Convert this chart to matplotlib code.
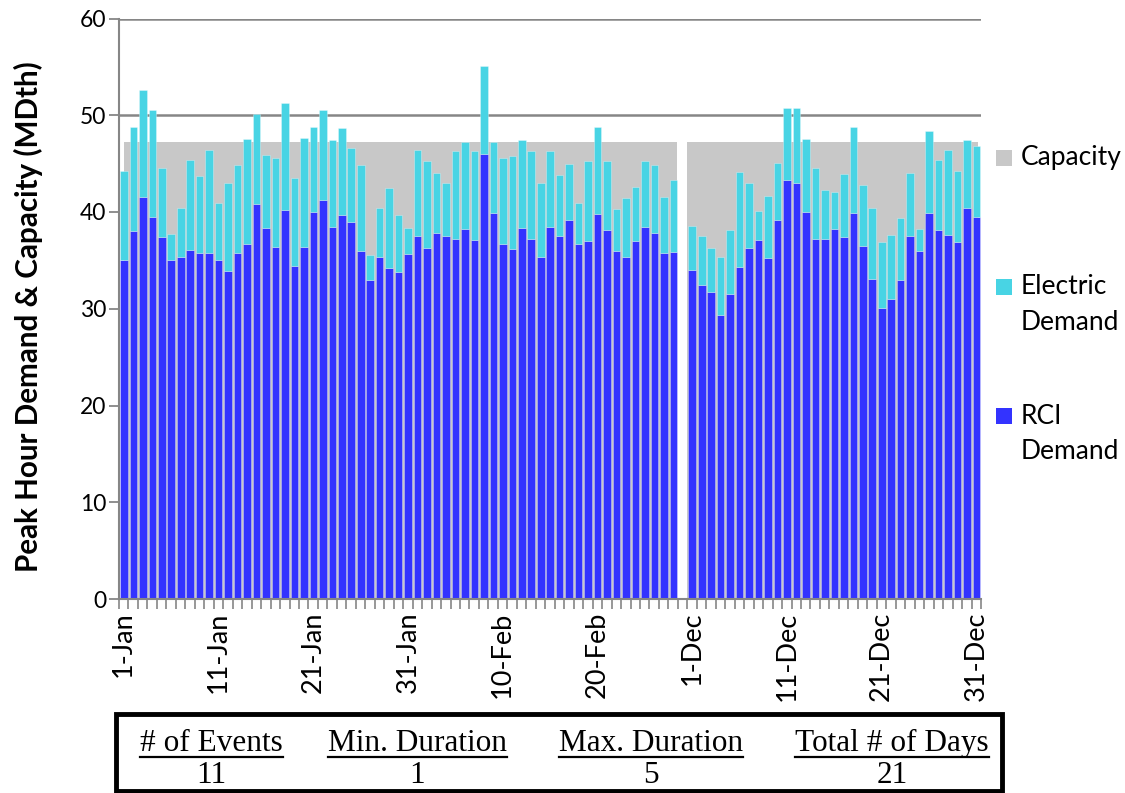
import matplotlib
matplotlib.use("Agg")
import matplotlib.pyplot as plt
from matplotlib.patches import Rectangle
from matplotlib.lines import Line2D
import numpy as np

# ---------------- data ----------------
janfeb_rci = [35.0, 38.0, 41.5, 39.5, 37.4, 35.0, 35.3, 36.1, 35.8, 35.8,
              35.0, 33.9, 35.8, 36.7, 40.8, 38.3, 36.4, 40.2, 34.4, 36.4,
              40.0, 41.2, 38.4, 39.7, 39.0, 36.0, 33.0, 35.4, 34.2, 33.8,
              35.7, 37.5, 36.3, 37.8, 37.5, 37.2, 38.2, 37.1, 46.0, 39.9,
              36.7, 36.2, 38.3, 37.2, 35.4, 38.5, 37.5, 39.2, 36.7, 37.0,
              39.8, 38.1, 36.0, 35.3, 37.0, 38.5, 37.8, 35.8, 35.9]
janfeb_elec = [9.2, 10.8, 11.1, 11.0, 7.1, 2.7, 5.1, 9.3, 7.9, 10.6,
               5.9, 9.1, 9.1, 10.8, 9.3, 7.6, 9.2, 11.1, 9.1, 11.2,
               8.8, 9.3, 9.0, 9.0, 7.6, 8.9, 2.6, 5.0, 8.3, 5.9,
               2.6, 8.9, 9.0, 6.2, 5.5, 9.1, 9.0, 9.2, 9.1, 7.3,
               8.9, 9.6, 9.1, 9.1, 7.6, 7.8, 6.3, 5.8, 4.2, 8.3,
               9.0, 7.2, 4.3, 6.1, 5.6, 6.8, 7.1, 5.8, 7.4]
dec_rci = [34.0, 32.5, 31.7, 29.4, 31.5, 34.3, 36.3, 37.1, 35.2, 39.2,
           43.3, 43.0, 40.0, 37.2, 37.2, 38.2, 37.4, 39.9, 36.5, 33.1,
           30.1, 31.0, 33.0, 37.5, 36.0, 39.9, 38.1, 37.6, 36.9, 40.4, 39.5]
dec_elec = [4.6, 5.0, 4.6, 5.9, 6.6, 9.8, 6.7, 3.0, 6.5, 5.9,
            7.5, 7.8, 7.5, 7.3, 5.1, 3.9, 6.5, 8.9, 6.3, 7.3,
            6.8, 6.6, 6.4, 6.5, 2.2, 8.5, 7.3, 8.8, 7.3, 7.0, 7.3]
capacity_value = 47.2
janfeb_capacity = [capacity_value] * len(janfeb_rci)
dec_capacity = [capacity_value] * len(dec_rci)

tick_labels = ["1-Jan", "11-Jan", "21-Jan", "31-Jan", "10-Feb", "20-Feb",
               "1-Dec", "11-Dec", "21-Dec", "31-Dec"]
legend_labels = ["Capacity", "Electric\nDemand", "RCI\nDemand"]
ylabel = "Peak Hour Demand & Capacity (MDth)"
table_headers = ["# of Events", "Min. Duration", "Max. Duration", "Total # of Days"]
table_values = ["11", "1", "5", "21"]

# ---------------- style ----------------
C_BLUE = "#3333FF"
C_CYAN = "#48D4E4"
C_GREY = "#C8C8C8"
C_AXIS = "#868686"
SANS = "Lato"
SERIF = "Liberation Serif"

W, H = 1125, 793
fig = plt.figure(figsize=(W / 100, H / 100), dpi=100)

def fx(px):
    return px / W

def fy(py):
    return 1 - py / H

ax_l, ax_r, ax_t, ax_b = 119, 981, 18.5, 599
ax = fig.add_axes([fx(ax_l), fy(ax_b), fx(ax_r - ax_l), (ax_b - ax_t) / H])

n_jf = len(janfeb_rci)
n_dec = len(dec_rci)
# categories: Jan-Feb, one empty category, Dec
cat_jf = np.arange(n_jf)
cat_dec = np.arange(n_dec) + n_jf + 1
n_cat = n_jf + 1 + n_dec

# capacity (drawn behind)
cap_step = 0.99
cap_x_jf = 0.53 + np.arange(n_jf) * cap_step
cap_x_dec = 59.98 + np.arange(n_dec) * cap_step
ax.bar(cap_x_jf, janfeb_capacity, width=1.0, align="edge", color=C_GREY,
       linewidth=0, zorder=2)
ax.bar(cap_x_dec, dec_capacity, width=1.0, align="edge", color=C_GREY,
       linewidth=0, zorder=2)

# demand bars
bw = 0.80
off = 0.12
edge = (1, 1, 1, 0.3)
for cats, rci, elec in [(cat_jf, janfeb_rci, janfeb_elec),
                        (cat_dec, dec_rci, dec_elec)]:
    ax.bar(cats + off, rci, width=bw, align="edge", color=C_BLUE,
           edgecolor=edge, linewidth=0.7, zorder=3)
    ax.bar(cats + off, elec, bottom=rci, width=bw, align="edge", color=C_CYAN,
           edgecolor=edge, linewidth=0.7, zorder=3)

ax.set_xlim(0, n_cat)
ax.set_ylim(0, 60)

# grid (only the lines above the capacity band are visible in the original)
ax.set_yticks(np.arange(0, 61, 10))
ax.yaxis.grid(True, color=C_AXIS, linewidth=1.8, zorder=1)
ax.set_axisbelow(True)
for val, gl in zip(ax.get_yticks(), ax.yaxis.get_gridlines()):
    if val < 50:
        gl.set_visible(False)

for s in ["top", "right"]:
    ax.spines[s].set_visible(False)
for s in ["left", "bottom"]:
    ax.spines[s].set_color(C_AXIS)
    ax.spines[s].set_linewidth(1.5)
    ax.spines[s].set_zorder(5)

ax.tick_params(axis="y", direction="out", length=7, width=1.3, color=C_AXIS,
               labelsize=16.5, pad=2)
for t in ax.get_yticklabels():
    t.set_fontfamily(SANS)

# x ticks
label_pos = [0, 10, 20, 30, 40, 50, n_jf + 1, n_jf + 11, n_jf + 21, n_jf + 31]
ax.set_xticks(np.array(label_pos) + 0.5)
ax.set_xticklabels(tick_labels, rotation=90, fontsize=19.5, fontfamily=SANS)
ax.set_xticks(np.arange(0, n_cat + 1), minor=True)
ax.tick_params(axis="x", which="major", length=0, pad=9)
ax.tick_params(axis="x", which="minor", direction="out", length=7, width=1.2,
               color=C_AXIS)

fig.text(fx(28), fy(317), ylabel, rotation=90, ha="center", va="center",
         fontsize=21.3, fontweight="bold", fontfamily=SANS)

# legend (manual, figure pixels)
leg_items = [(C_GREY, 158, legend_labels[0]),
             (C_CYAN, 287, legend_labels[1]),
             (C_BLUE, 416, legend_labels[2])]
line_gap = 35
for col, yc, lab in leg_items:
    fig.patches.append(Rectangle((fx(996), fy(yc + 8)), fx(16), 16 / H,
                                 transform=fig.transFigure, facecolor=col,
                                 edgecolor="none"))
    for k, line in enumerate(lab.split("\n")):
        fig.text(fx(1021), fy(yc + k * line_gap), line, ha="left",
                 va="center", fontsize=19, fontfamily=SANS)

fig.canvas.draw()

# table box
fig.patches.append(Rectangle((fx(116), fy(791)), fx(1002 - 116), (791 - 714) / H,
                             transform=fig.transFigure, facecolor="none",
                             edgecolor="black", linewidth=3.5))
head_x = [211.5, 417, 651, 892]
renderer = fig.canvas.get_renderer()
for xc, hd, val in zip(head_x, table_headers, table_values):
    t = fig.text(fx(xc), fy(751), hd, ha="center", va="baseline",
                 fontsize=22.5, fontfamily=SERIF)
    bb = t.get_window_extent(renderer=renderer)
    fig.lines.append(Line2D([bb.x0 / W, bb.x1 / W], [fy(757), fy(757)],
                            transform=fig.transFigure, color="black",
                            linewidth=1.6))
    fig.text(fx(xc), fy(783), val, ha="center", va="baseline",
             fontsize=22.5, fontfamily=SERIF)

fig.savefig("out.png", dpi=100)
